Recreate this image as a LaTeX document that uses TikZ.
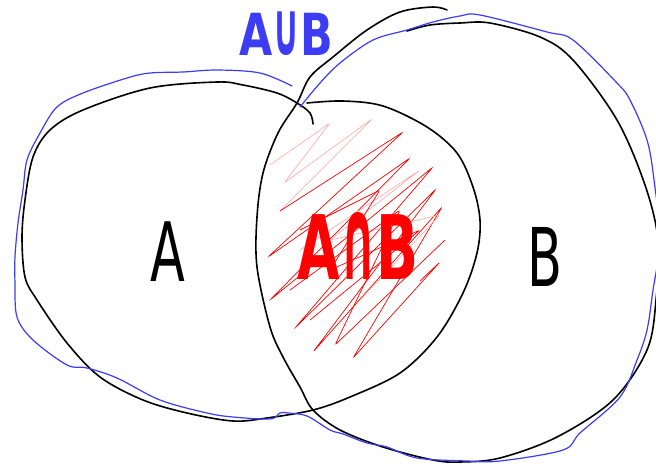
\documentclass[tikz,border=0pt]{standalone}
\usepackage{fontspec}
\setmainfont{DejaVu Sans}
\definecolor{penblue}{RGB}{60,60,245}
\definecolor{penred}{RGB}{255,0,0}
\newcommand{\tallop}[1]{\scalebox{0.8}[1.3]{#1}}
\tikzset{
  blackpen/.style={draw=black, line width=1.6pt, line cap=round, line join=round},
  bluepen/.style={draw=penblue, line width=1.2pt, line cap=round, line join=round},
  redpen/.style={draw=penred, line width=0.7pt, line cap=round, rounded corners=2.5pt},
  palered/.style={draw=penred!35, line width=0.6pt, line cap=round, rounded corners=2.5pt},
  label/.style={inner sep=0pt, anchor=center}
}
\begin{document}
\begin{tikzpicture}[x=1pt, y=-1pt]
\useasboundingbox (0,0) rectangle (656,466);
\clip (0,0) rectangle (656,466);
\fill[white] (0,0) rectangle (656,466);

% red scribble (intersection shading)
\draw[palered] (270,165) -- (330,123) -- (284,183) -- (372,119) -- (280,211);
\draw[redpen] (280,211) -- (403,132) -- (268,257) -- (410,158) -- (270,300)
   -- (433,167) -- (295,328) -- (436,189) -- (313,352) -- (442,207)
   -- (353,358) -- (440,262) -- (420,281);
\draw[palered] (300,250) -- (420,170) -- (330,240) -- (440,215) -- (360,300);
\draw[redpen] (300,230) -- (380,190) -- (330,270) -- (420,230) -- (310,320);
\draw[redpen] (290,290) -- (400,210) -- (335,345) -- (445,240);

% set A (black)
\draw[blackpen] plot[smooth, tension=0.55] coordinates {
 (313,124) (310,113) (297,103) (277,93) (243,85) (217,82) (150,88) (83,110)
 (50,130) (33,157) (25,200) (22,237) (25,277) (37,300) (67,343) (100,377)
 (143,400) (187,413) (233,421) (267,418) (313,410) (350,397) (400,373)
 (437,337) (463,293) (477,253) (480,220) (473,187) (457,153) (427,127)
 (383,106) (343,101) (307,103)};

% set B (black)
\draw[blackpen] plot[smooth, tension=0.55] coordinates {
 (447,10) (433,7) (400,12) (367,30) (333,57) (310,77) (297,103) (278,133)
 (263,173) (257,217) (257,267) (270,327) (283,357) (300,387) (313,410)
 (340,430) (383,447) (433,460) (460,462) (500,458) (557,437) (613,400)
 (647,350) (656,300) (658,240) (645,185) (617,120) (573,60) (540,37)
 (490,23) (460,23) (430,25) (407,31)};

% union outline (blue)
\draw[bluepen] plot[smooth, tension=0.55] coordinates {
 (292,86) (260,73) (217,70) (183,72) (150,73) (127,78) (83,93) (57,107)
 (40,133) (27,160) (23,190) (18,223) (15,257) (15,283) (17,317) (33,340)
 (67,365) (87,368) (117,378) (160,400) (207,413) (233,417) (270,419)
 (280,413) (288,413) (307,416) (330,430) (343,434) (367,443) (387,447)
 (417,458) (467,461) (500,461) (563,450) (580,433) (620,397) (637,360)
 (647,330) (653,290) (660,240) (654,180) (647,140) (630,100) (617,83)
 (573,40) (547,32) (480,15) (460,16) (433,22) (407,30) (373,40) (340,63)
 (320,83) (300,107)};

% labels
\node[label, text=black] (la) at (168,252)
  {\scalebox{0.62}[1]{\fontsize{82}{90}\selectfont A}};
\node[label, text=black] (lb) at (545,257)
  {\scalebox{0.63}[1]{\fontsize{81}{90}\selectfont B}};
\node[label, text=penred] (lab) at (358,246)
  {\scalebox{0.62}[1]{\fontsize{89}{95}\selectfont\bfseries A\tallop{∩}B}};
\node[label, anchor=base, text=penblue] (lunion) at (286,55)
  {\scalebox{0.74}[1]{\fontsize{58}{64}\selectfont\bfseries A\tallop{∪}B}};
\end{tikzpicture}
\end{document}
